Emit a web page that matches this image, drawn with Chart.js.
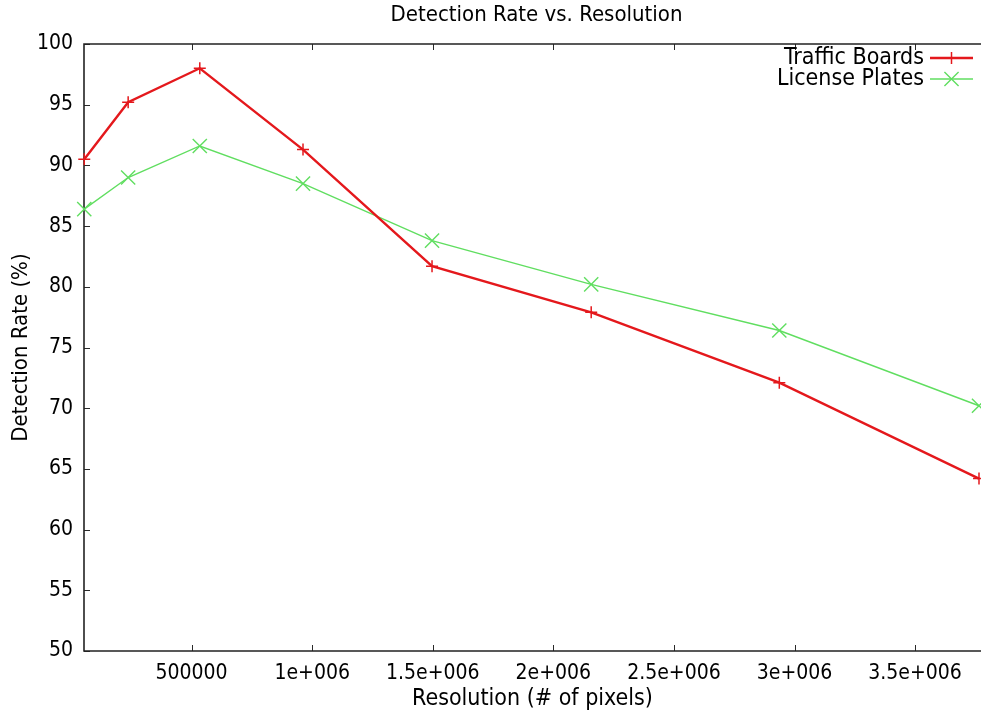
<!DOCTYPE html>
<html>
<head>
<meta charset="utf-8">
<title>Detection Rate vs. Resolution</title>
<script src="https://cdn.jsdelivr.net/npm/chart.js@4.4.1/dist/chart.umd.min.js"></script>
<style>
  html, body { margin: 0; padding: 0; background: #ffffff; overflow: hidden; }
  canvas { display: block; }
</style>
</head>
<body>
<canvas id="chart" width="981" height="717"></canvas>
<script>
// Measured detection rates per image resolution (# of pixels)
const resolutions   = [55000, 237000, 534000, 962000, 1497000, 2157000, 2937000, 3765000];
const trafficBoards = [90.5, 95.2, 98.0, 91.3, 81.7, 77.9, 72.1, 64.2];
const licensePlates = [86.4, 89.0, 91.6, 88.5, 83.8, 80.2, 76.4, 70.2];

const seriesNames = ['Traffic Boards', 'License Plates'];

const xTickValues = [500000, 1000000, 1500000, 2000000, 2500000, 3000000, 3500000];
const xTickLabels = ['500000', '1e+006', '1.5e+006', '2e+006', '2.5e+006', '3e+006', '3.5e+006'];
const yTickValues = [50, 55, 60, 65, 70, 75, 80, 85, 90, 95, 100];

const chartTitle = 'Detection Rate vs. Resolution';
const xAxisTitle = 'Resolution (# of pixels)';
const yAxisTitle = 'Detection Rate (%)';

const FONT_FAMILY = "'DejaVu Sans Condensed', 'DejaVu Sans', sans-serif";
const RED = 'rgb(228, 24, 28)';
const GREEN = 'rgb(96, 222, 96)';

function toPoints(xs, ys) {
  return xs.map((x, i) => ({ x: x, y: ys[i] }));
}

// Title, frame, inward tick marks and the in-plot key
const gnuplotFrame = {
  id: 'gnuplotFrame',
  beforeDatasetsDraw(chart) {
    const { ctx, chartArea: a, scales } = chart;
    ctx.save();
    ctx.strokeStyle = '#2a2a2a';
    ctx.lineWidth = 1;
    const tick = 6;
    ctx.beginPath();
    scales.x.ticks.forEach(t => {
      const px = Math.round(scales.x.getPixelForValue(t.value)) + 0.5;
      ctx.moveTo(px, a.bottom); ctx.lineTo(px, a.bottom - tick);
      ctx.moveTo(px, a.top); ctx.lineTo(px, a.top + tick);
    });
    scales.y.ticks.forEach(t => {
      const py = Math.round(scales.y.getPixelForValue(t.value)) + 0.5;
      ctx.moveTo(a.left, py); ctx.lineTo(a.left + tick, py);
    });
    ctx.stroke();
    ctx.lineWidth = 1.6;
    ctx.strokeStyle = '#222';
    ctx.beginPath();
    ctx.moveTo(a.right + 1, a.top);
    ctx.lineTo(a.left, a.top);
    ctx.lineTo(a.left, a.bottom);
    ctx.lineTo(a.right + 1, a.bottom);
    ctx.stroke();
    ctx.restore();
  },
  afterDraw(chart) {
    const { ctx, chartArea: a } = chart;
    ctx.save();
    ctx.fillStyle = '#000';
    ctx.font = '22px ' + FONT_FAMILY;
    ctx.textAlign = 'center';
    ctx.textBaseline = 'middle';
    ctx.fillText(chartTitle, (a.left + a.right) / 2 + 4, 15);

    // key
    ctx.font = '23px ' + FONT_FAMILY;
    ctx.textAlign = 'right';
    chart.data.datasets.forEach((ds, i) => {
      const y = a.top + 14 + i * 21;
      const textRight = a.right - 57;
      ctx.fillStyle = '#000';
      ctx.fillText(ds.label, textRight, y);
      const x0 = a.right - 51, x1 = a.right - 8, xm = (x0 + x1) / 2;
      ctx.strokeStyle = ds.borderColor;
      ctx.lineWidth = ds.borderWidth;
      ctx.beginPath();
      ctx.moveTo(x0, y); ctx.lineTo(x1, y);
      ctx.stroke();
      ctx.lineWidth = ds.pointBorderWidth;
      ctx.beginPath();
      if (ds.pointStyle === 'cross') {
        const r = ds.pointRadius;
        ctx.moveTo(xm, y - r); ctx.lineTo(xm, y + r);
      } else {
        const r = ds.pointRadius * Math.SQRT1_2;
        ctx.moveTo(xm - r, y - r); ctx.lineTo(xm + r, y + r);
        ctx.moveTo(xm - r, y + r); ctx.lineTo(xm + r, y - r);
      }
      ctx.stroke();
    });
    ctx.restore();
  }
};

new Chart(document.getElementById('chart'), {
  type: 'line',
  data: {
    datasets: [
      {
        label: seriesNames[0],
        data: toPoints(resolutions, trafficBoards),
        borderColor: RED,
        backgroundColor: RED,
        borderWidth: 2.4,
        pointStyle: 'cross',
        pointRadius: 6,
        pointBorderWidth: 1.5,
        pointBorderColor: RED,
        tension: 0,
        fill: false,
        clip: false
      },
      {
        label: seriesNames[1],
        data: toPoints(resolutions, licensePlates),
        borderColor: GREEN,
        backgroundColor: GREEN,
        borderWidth: 1.4,
        pointStyle: 'crossRot',
        pointRadius: 10,
        pointBorderWidth: 1.4,
        pointBorderColor: GREEN,
        tension: 0,
        fill: false,
        clip: false
      }
    ]
  },
  options: {
    responsive: false,
    animation: false,
    devicePixelRatio: 1,
    layout: { autoPadding: false, padding: { top: 44, left: 0, right: 0, bottom: 0 } },
    plugins: {
      legend: { display: false },
      title: { display: false },
      tooltip: { enabled: false }
    },
    scales: {
      x: {
        type: 'linear',
        position: 'bottom',
        min: 53900,
        max: 3773300,
        afterBuildTicks: s => { s.ticks = xTickValues.map(v => ({ value: v })); },
        afterFit: s => { s.height = 66; s.paddingLeft = 0; s.paddingRight = 0; },
        grid: { display: false, drawTicks: false },
        border: { display: false },
        ticks: {
          autoSkip: false,
          maxRotation: 0,
          padding: 10,
          color: '#000',
          font: { family: FONT_FAMILY, size: 21 },
          callback: v => {
            const i = xTickValues.indexOf(v);
            return i >= 0 ? xTickLabels[i] : String(v);
          }
        },
        title: {
          display: true,
          text: xAxisTitle,
          color: '#000',
          font: { family: FONT_FAMILY, size: 23 },
          padding: { top: 0, bottom: 4 }
        }
      },
      y: {
        type: 'linear',
        position: 'left',
        min: 50,
        max: 100,
        afterBuildTicks: s => { s.ticks = yTickValues.map(v => ({ value: v })); },
        afterFit: s => { s.width = 84; },
        grid: { display: false, drawTicks: false },
        border: { display: false },
        ticks: {
          padding: 11,
          color: '#000',
          font: { family: FONT_FAMILY, size: 21 }
        },
        title: {
          display: true,
          text: yAxisTitle,
          color: '#000',
          font: { family: FONT_FAMILY, size: 22 },
          padding: { top: 8, bottom: 0 }
        }
      }
    }
  },
  plugins: [gnuplotFrame]
});
</script>
</body>
</html>
